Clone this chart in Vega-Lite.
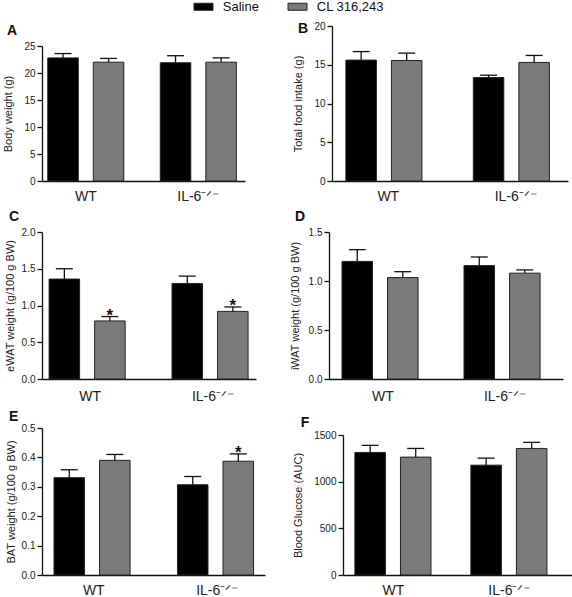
{
  "$schema": "https://vega.github.io/schema/vega-lite/v6.json",
  "padding": {"left": 2, "top": 0, "right": 0, "bottom": 0},
  "background": "white",
  "config": {
    "font": "Liberation Sans",
    "view": {"stroke": null},
    "axis": {"domainColor": "#111", "tickColor": "#111", "domainWidth": 1.3, "tickWidth": 1.3, "labelFont": "Liberation Sans", "titleFont": "Liberation Sans", "labelColor": "#222", "titleColor": "#222", "titleFontWeight": "normal", "grid": false},
    "axisY": {"labelFontSize": 10, "titleFontSize": 11, "tickSize": 5, "labelPadding": 2, "titlePadding": 8},
    "axisX": {"labelFontSize": 14, "ticks": false, "labelPadding": 8, "title": null, "labelAngle": 0},
    "title": {"fontSize": 14, "fontWeight": "bold", "anchor": "start", "frame": "bounds", "font": "Liberation Sans", "color": "#111"},
    "legend": {"title": null, "orient": "none", "direction": "horizontal", "legendX": 155, "legendY": -26, "symbolType": "M-2,-0.737H2V0.737H-2Z", "symbolSize": 90.25, "symbolStrokeColor": "#222", "symbolStrokeWidth": 1, "symbolOpacity": 1, "labelFontSize": 13, "labelFont": "Liberation Sans", "labelColor": "#111", "labelOffset": 12.75, "columnPadding": 27}
  },
  "datasets": {
    "bars": [
      {"panel": "A", "genotype": "WT", "treatment": "Saline", "value": 22.8, "err": 23.6, "sig": ""},
      {"panel": "A", "genotype": "WT", "treatment": "CL 316,243", "value": 22.0, "err": 22.7, "sig": ""},
      {"panel": "A", "genotype": "IL-6⁻ᐟ⁻", "treatment": "Saline", "value": 21.9, "err": 23.2, "sig": ""},
      {"panel": "A", "genotype": "IL-6⁻ᐟ⁻", "treatment": "CL 316,243", "value": 22.0, "err": 22.8, "sig": ""},
      {"panel": "B", "genotype": "WT", "treatment": "Saline", "value": 15.6, "err": 16.7, "sig": ""},
      {"panel": "B", "genotype": "WT", "treatment": "CL 316,243", "value": 15.55, "err": 16.5, "sig": ""},
      {"panel": "B", "genotype": "IL-6⁻ᐟ⁻", "treatment": "Saline", "value": 13.35, "err": 13.65, "sig": ""},
      {"panel": "B", "genotype": "IL-6⁻ᐟ⁻", "treatment": "CL 316,243", "value": 15.3, "err": 16.2, "sig": ""},
      {"panel": "C", "genotype": "WT", "treatment": "Saline", "value": 1.36, "err": 1.5, "sig": ""},
      {"panel": "C", "genotype": "WT", "treatment": "CL 316,243", "value": 0.79, "err": 0.85, "sig": "*"},
      {"panel": "C", "genotype": "IL-6⁻ᐟ⁻", "treatment": "Saline", "value": 1.3, "err": 1.4, "sig": ""},
      {"panel": "C", "genotype": "IL-6⁻ᐟ⁻", "treatment": "CL 316,243", "value": 0.92, "err": 0.98, "sig": "*"},
      {"panel": "D", "genotype": "WT", "treatment": "Saline", "value": 1.2, "err": 1.32, "sig": ""},
      {"panel": "D", "genotype": "WT", "treatment": "CL 316,243", "value": 1.035, "err": 1.095, "sig": ""},
      {"panel": "D", "genotype": "IL-6⁻ᐟ⁻", "treatment": "Saline", "value": 1.157, "err": 1.245, "sig": ""},
      {"panel": "D", "genotype": "IL-6⁻ᐟ⁻", "treatment": "CL 316,243", "value": 1.08, "err": 1.113, "sig": ""},
      {"panel": "E", "genotype": "WT", "treatment": "Saline", "value": 0.331, "err": 0.358, "sig": ""},
      {"panel": "E", "genotype": "WT", "treatment": "CL 316,243", "value": 0.39, "err": 0.41, "sig": ""},
      {"panel": "E", "genotype": "IL-6⁻ᐟ⁻", "treatment": "Saline", "value": 0.307, "err": 0.335, "sig": ""},
      {"panel": "E", "genotype": "IL-6⁻ᐟ⁻", "treatment": "CL 316,243", "value": 0.387, "err": 0.412, "sig": "*"},
      {"panel": "F", "genotype": "WT", "treatment": "Saline", "value": 1313, "err": 1389, "sig": ""},
      {"panel": "F", "genotype": "WT", "treatment": "CL 316,243", "value": 1263, "err": 1356, "sig": ""},
      {"panel": "F", "genotype": "IL-6⁻ᐟ⁻", "treatment": "Saline", "value": 1177, "err": 1252, "sig": ""},
      {"panel": "F", "genotype": "IL-6⁻ᐟ⁻", "treatment": "CL 316,243", "value": 1356, "err": 1421, "sig": ""}
    ]
  },
  "vconcat": [
    {
      "spacing": 47,
      "hconcat": [
        {
          "width": 203, "height": 155,
          "title": {"text": "A", "offset": -12, "dx": 4},
          "data": {"name": "bars"},
          "transform": [{"filter": "datum.panel === 'A'"}],
          "encoding": {
            "x": {"field": "genotype", "type": "nominal", "sort": ["WT", "IL-6⁻ᐟ⁻"], "scale": {"paddingInner": 0.324, "paddingOuter": 0.064, "align": 0.4}},
            "xOffset": {"field": "treatment", "type": "nominal", "sort": ["Saline", "CL 316,243"], "scale": {"paddingInner": 0.33, "paddingOuter": 0}}
          },
          "layer": [
            {"mark": {"type": "bar", "stroke": "#222", "strokeWidth": 1}, "encoding": {"y": {"field": "value", "type": "quantitative", "scale": {"domain": [0, 25], "nice": false, "range": [155, 20]}, "axis": {"values": [0, 5, 10, 15, 20, 25], "title": "Body weight (g)", "titlePadding": 10}}, "color": {"field": "treatment", "type": "nominal", "sort": ["Saline", "CL 316,243"], "scale": {"domain": ["Saline", "CL 316,243"], "range": ["#000000", "#7a7a7a"]}}}},
            {"mark": {"type": "rule", "color": "#111", "strokeWidth": 1.3}, "encoding": {"y": {"field": "value", "type": "quantitative", "scale": {"domain": [0, 25], "nice": false, "range": [155, 20]}, "axis": {"values": [0, 5, 10, 15, 20, 25], "title": "Body weight (g)", "titlePadding": 10}}, "y2": {"field": "err"}}},
            {"mark": {"type": "tick", "orient": "horizontal", "size": 17, "thickness": 1.3, "color": "#111", "opacity": 1}, "encoding": {"y": {"field": "err", "type": "quantitative", "scale": {"domain": [0, 25], "nice": false, "range": [155, 20]}, "axis": {"values": [0, 5, 10, 15, 20, 25], "title": "Body weight (g)", "titlePadding": 10}}}}
          ]
        },
        {
          "width": 236, "height": 155,
          "title": {"text": "B", "offset": -15, "dx": 5},
          "data": {"name": "bars"},
          "transform": [{"filter": "datum.panel === 'B'"}],
          "encoding": {
            "x": {"field": "genotype", "type": "nominal", "sort": ["WT", "IL-6⁻ᐟ⁻"], "scale": {"paddingInner": 0.335, "paddingOuter": 0.0934, "align": 0.583}},
            "xOffset": {"field": "treatment", "type": "nominal", "sort": ["Saline", "CL 316,243"], "scale": {"paddingInner": 0.365, "paddingOuter": 0}}
          },
          "layer": [
            {"mark": {"type": "bar", "stroke": "#222", "strokeWidth": 1}, "encoding": {"y": {"field": "value", "type": "quantitative", "scale": {"domain": [0, 20], "nice": false}, "axis": {"values": [0, 5, 10, 15, 20], "title": "Total food intake (g)", "titlePadding": 10}}, "color": {"field": "treatment", "type": "nominal", "sort": ["Saline", "CL 316,243"], "scale": {"domain": ["Saline", "CL 316,243"], "range": ["#000000", "#7a7a7a"]}}}},
            {"mark": {"type": "rule", "color": "#111", "strokeWidth": 1.3}, "encoding": {"y": {"field": "value", "type": "quantitative", "scale": {"domain": [0, 20], "nice": false}, "axis": {"values": [0, 5, 10, 15, 20], "title": "Total food intake (g)", "titlePadding": 10}}, "y2": {"field": "err"}}},
            {"mark": {"type": "tick", "orient": "horizontal", "size": 17, "thickness": 1.3, "color": "#111", "opacity": 1}, "encoding": {"y": {"field": "err", "type": "quantitative", "scale": {"domain": [0, 20], "nice": false}, "axis": {"values": [0, 5, 10, 15, 20], "title": "Total food intake (g)", "titlePadding": 10}}}}
          ]
        }
      ]
    },
    {
      "spacing": 33,
      "hconcat": [
        {
          "width": 214, "height": 147,
          "title": {"text": "C", "offset": 3, "dx": 5},
          "data": {"name": "bars"},
          "transform": [{"filter": "datum.panel === 'C'"}],
          "encoding": {
            "x": {"field": "genotype", "type": "nominal", "sort": ["WT", "IL-6⁻ᐟ⁻"], "scale": {"paddingInner": 0.333, "paddingOuter": 0.037, "align": 0.78}, "axis": {"labelPadding": 10}},
            "xOffset": {"field": "treatment", "type": "nominal", "sort": ["Saline", "CL 316,243"], "scale": {"paddingInner": 0.327, "paddingOuter": 0}}
          },
          "layer": [
            {"mark": {"type": "bar", "stroke": "#222", "strokeWidth": 1}, "encoding": {"y": {"field": "value", "type": "quantitative", "scale": {"domain": [0, 2], "nice": false}, "axis": {"values": [0, 0.5, 1, 1.5, 2], "format": ".1f", "title": "eWAT weight (g/100 g BW)", "titlePadding": 6}}, "color": {"field": "treatment", "type": "nominal", "sort": ["Saline", "CL 316,243"], "scale": {"domain": ["Saline", "CL 316,243"], "range": ["#000000", "#7a7a7a"]}}}},
            {"mark": {"type": "rule", "color": "#111", "strokeWidth": 1.3}, "encoding": {"y": {"field": "value", "type": "quantitative", "scale": {"domain": [0, 2], "nice": false}, "axis": {"values": [0, 0.5, 1, 1.5, 2], "format": ".1f", "title": "eWAT weight (g/100 g BW)", "titlePadding": 6}}, "y2": {"field": "err"}}},
            {"mark": {"type": "tick", "orient": "horizontal", "size": 17, "thickness": 1.3, "color": "#111", "opacity": 1}, "encoding": {"y": {"field": "err", "type": "quantitative", "scale": {"domain": [0, 2], "nice": false}, "axis": {"values": [0, 0.5, 1, 1.5, 2], "format": ".1f", "title": "eWAT weight (g/100 g BW)", "titlePadding": 6}}}},
            {"mark": {"type": "text", "baseline": "alphabetic", "dy": 4, "fontSize": 17, "fontWeight": "bold", "color": "#111"}, "encoding": {"y": {"field": "err", "type": "quantitative", "scale": {"domain": [0, 2], "nice": false}, "axis": {"values": [0, 0.5, 1, 1.5, 2], "format": ".1f", "title": "eWAT weight (g/100 g BW)", "titlePadding": 6}}, "text": {"field": "sig"}}}
          ]
        },
        {
          "width": 234, "height": 147,
          "title": {"text": "D", "offset": 3, "dx": 6},
          "data": {"name": "bars"},
          "transform": [{"filter": "datum.panel === 'D'"}],
          "encoding": {
            "x": {"field": "genotype", "type": "nominal", "sort": ["WT", "IL-6⁻ᐟ⁻"], "scale": {"paddingInner": 0.328, "paddingOuter": 0.123, "align": 0.433}, "axis": {"labelPadding": 10}},
            "xOffset": {"field": "treatment", "type": "nominal", "sort": ["Saline", "CL 316,243"], "scale": {"paddingInner": 0.343, "paddingOuter": 0}}
          },
          "layer": [
            {"mark": {"type": "bar", "stroke": "#222", "strokeWidth": 1}, "encoding": {"y": {"field": "value", "type": "quantitative", "scale": {"domain": [0, 1.5], "nice": false}, "axis": {"values": [0, 0.5, 1, 1.5], "format": ".1f", "title": "iWAT weight (g/100 g BW)", "titlePadding": 8}}, "color": {"field": "treatment", "type": "nominal", "sort": ["Saline", "CL 316,243"], "scale": {"domain": ["Saline", "CL 316,243"], "range": ["#000000", "#7a7a7a"]}}}},
            {"mark": {"type": "rule", "color": "#111", "strokeWidth": 1.3}, "encoding": {"y": {"field": "value", "type": "quantitative", "scale": {"domain": [0, 1.5], "nice": false}, "axis": {"values": [0, 0.5, 1, 1.5], "format": ".1f", "title": "iWAT weight (g/100 g BW)", "titlePadding": 8}}, "y2": {"field": "err"}}},
            {"mark": {"type": "tick", "orient": "horizontal", "size": 17, "thickness": 1.3, "color": "#111", "opacity": 1}, "encoding": {"y": {"field": "err", "type": "quantitative", "scale": {"domain": [0, 1.5], "nice": false}, "axis": {"values": [0, 0.5, 1, 1.5], "format": ".1f", "title": "iWAT weight (g/100 g BW)", "titlePadding": 8}}}}
          ]
        }
      ]
    },
    {
      "spacing": 27,
      "hconcat": [
        {
          "width": 223, "height": 147,
          "title": {"text": "E", "offset": -1, "dx": 4},
          "data": {"name": "bars"},
          "transform": [{"filter": "datum.panel === 'E'"}],
          "encoding": {
            "x": {"field": "genotype", "type": "nominal", "sort": ["WT", "IL-6⁻ᐟ⁻"], "scale": {"paddingInner": 0.356, "paddingOuter": 0.081, "align": 0.6}},
            "xOffset": {"field": "treatment", "type": "nominal", "sort": ["Saline", "CL 316,243"], "scale": {"paddingInner": 0.184, "paddingOuter": 0}}
          },
          "layer": [
            {"mark": {"type": "bar", "stroke": "#222", "strokeWidth": 1}, "encoding": {"y": {"field": "value", "type": "quantitative", "scale": {"domain": [0, 0.5], "nice": false}, "axis": {"values": [0, 0.1, 0.2, 0.3, 0.4, 0.5], "format": ".1f", "title": "BAT weight (g/100 g BW)", "titlePadding": 5}}, "color": {"field": "treatment", "type": "nominal", "sort": ["Saline", "CL 316,243"], "scale": {"domain": ["Saline", "CL 316,243"], "range": ["#000000", "#7a7a7a"]}}}},
            {"mark": {"type": "rule", "color": "#111", "strokeWidth": 1.3}, "encoding": {"y": {"field": "value", "type": "quantitative", "scale": {"domain": [0, 0.5], "nice": false}, "axis": {"values": [0, 0.1, 0.2, 0.3, 0.4, 0.5], "format": ".1f", "title": "BAT weight (g/100 g BW)", "titlePadding": 5}}, "y2": {"field": "err"}}},
            {"mark": {"type": "tick", "orient": "horizontal", "size": 17, "thickness": 1.3, "color": "#111", "opacity": 1}, "encoding": {"y": {"field": "err", "type": "quantitative", "scale": {"domain": [0, 0.5], "nice": false}, "axis": {"values": [0, 0.1, 0.2, 0.3, 0.4, 0.5], "format": ".1f", "title": "BAT weight (g/100 g BW)", "titlePadding": 5}}}},
            {"mark": {"type": "text", "baseline": "alphabetic", "dy": 4, "fontSize": 17, "fontWeight": "bold", "color": "#111"}, "encoding": {"y": {"field": "err", "type": "quantitative", "scale": {"domain": [0, 0.5], "nice": false}, "axis": {"values": [0, 0.1, 0.2, 0.3, 0.4, 0.5], "format": ".1f", "title": "BAT weight (g/100 g BW)", "titlePadding": 5}}, "text": {"field": "sig"}}}
          ]
        },
        {
          "width": 234, "height": 147,
          "title": {"text": "F", "offset": -2, "dx": 8},
          "data": {"name": "bars"},
          "transform": [{"filter": "datum.panel === 'F'"}],
          "encoding": {
            "x": {"field": "genotype", "type": "nominal", "sort": ["WT", "IL-6⁻ᐟ⁻"], "scale": {"paddingInner": 0.336, "paddingOuter": 0.177, "align": 0.29}},
            "xOffset": {"field": "treatment", "type": "nominal", "sort": ["Saline", "CL 316,243"], "scale": {"paddingInner": 0.326, "paddingOuter": 0}}
          },
          "layer": [
            {"mark": {"type": "bar", "stroke": "#222", "strokeWidth": 1}, "encoding": {"y": {"field": "value", "type": "quantitative", "scale": {"domain": [0, 1500], "nice": false, "range": [147, 7]}, "axis": {"values": [0, 500, 1000, 1500], "format": "d", "title": "Blood Glucose (AUC)", "titlePadding": 10}}, "color": {"field": "treatment", "type": "nominal", "sort": ["Saline", "CL 316,243"], "scale": {"domain": ["Saline", "CL 316,243"], "range": ["#000000", "#7a7a7a"]}}}},
            {"mark": {"type": "rule", "color": "#111", "strokeWidth": 1.3}, "encoding": {"y": {"field": "value", "type": "quantitative", "scale": {"domain": [0, 1500], "nice": false, "range": [147, 7]}, "axis": {"values": [0, 500, 1000, 1500], "format": "d", "title": "Blood Glucose (AUC)", "titlePadding": 10}}, "y2": {"field": "err"}}},
            {"mark": {"type": "tick", "orient": "horizontal", "size": 17, "thickness": 1.3, "color": "#111", "opacity": 1}, "encoding": {"y": {"field": "err", "type": "quantitative", "scale": {"domain": [0, 1500], "nice": false, "range": [147, 7]}, "axis": {"values": [0, 500, 1000, 1500], "format": "d", "title": "Blood Glucose (AUC)", "titlePadding": 10}}}}
          ]
        }
      ]
    }
  ],
  "spacing": 7
}
